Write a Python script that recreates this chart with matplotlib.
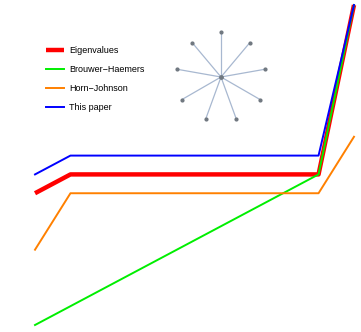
import numpy as np
import matplotlib
matplotlib.use("Agg")
import matplotlib.pyplot as plt

plt.rcParams['font.family'] = ['Liberation Sans', 'DejaVu Sans']

# eigenvalue index
idx = np.arange(1, 11)
# Laplacian eigenvalues of the star K1,9 and the bounds
eigenvalues = [0, 1, 1, 1, 1, 1, 1, 1, 1, 10]
brouwer_haemers = [-7, -6, -5, -4, -3, -2, -1, 0, 1, 10]
horn_johnson = [-3, 0, 0, 0, 0, 0, 0, 0, 0, 3]
this_paper = [1, 2, 2, 2, 2, 2, 2, 2, 2, 10]
labels = ["Eigenvalues", "Brouwer\u2212Haemers", "Horn\u2212Johnson", "This paper"]
n_leaves = 9

fig = plt.figure(figsize=(3.61, 3.32), dpi=100)
ax = fig.add_axes([0, 0, 1, 1])
ax.plot(idx, eigenvalues, color="#ff0000", lw=3.2, label=labels[0], solid_capstyle="butt")
ax.plot(idx, brouwer_haemers, color="#00ee00", lw=1.4, label=labels[1])
ax.plot(idx, horn_johnson, color="#ff8000", lw=1.4, label=labels[2])
ax.plot(idx, this_paper, color="#0000ff", lw=1.4, label=labels[3])
ax.set_xlim(0.012, 10.198)
ax.set_ylim(-7.372, 10.266)
ax.axis("off")
ax.legend(loc="upper left", bbox_to_anchor=(0.106, 0.885), frameon=False,
          fontsize=6.5, handlelength=1.9, handletextpad=0.65, labelspacing=1.1)

# star graph drawing
ins = fig.add_axes([171 / 361, (332 - 127) / 332, 100 / 361, 100 / 332])
ang = np.deg2rad(90 - 40 * np.arange(n_leaves))
lx, ly = np.cos(ang), np.sin(ang)
for x, y in zip(lx, ly):
    ins.plot([0, x], [0, y], color="#a8b8d0", lw=0.9, zorder=1)
ins.scatter(lx, ly, s=4, color="#707880", zorder=2)
ins.scatter([0], [0], s=6, color="#707880", zorder=2)
ins.set_xlim(-1.111, 1.111)
ins.set_ylim(-1.111, 1.111)
ins.axis("off")

fig.savefig("out.png", dpi=100)
